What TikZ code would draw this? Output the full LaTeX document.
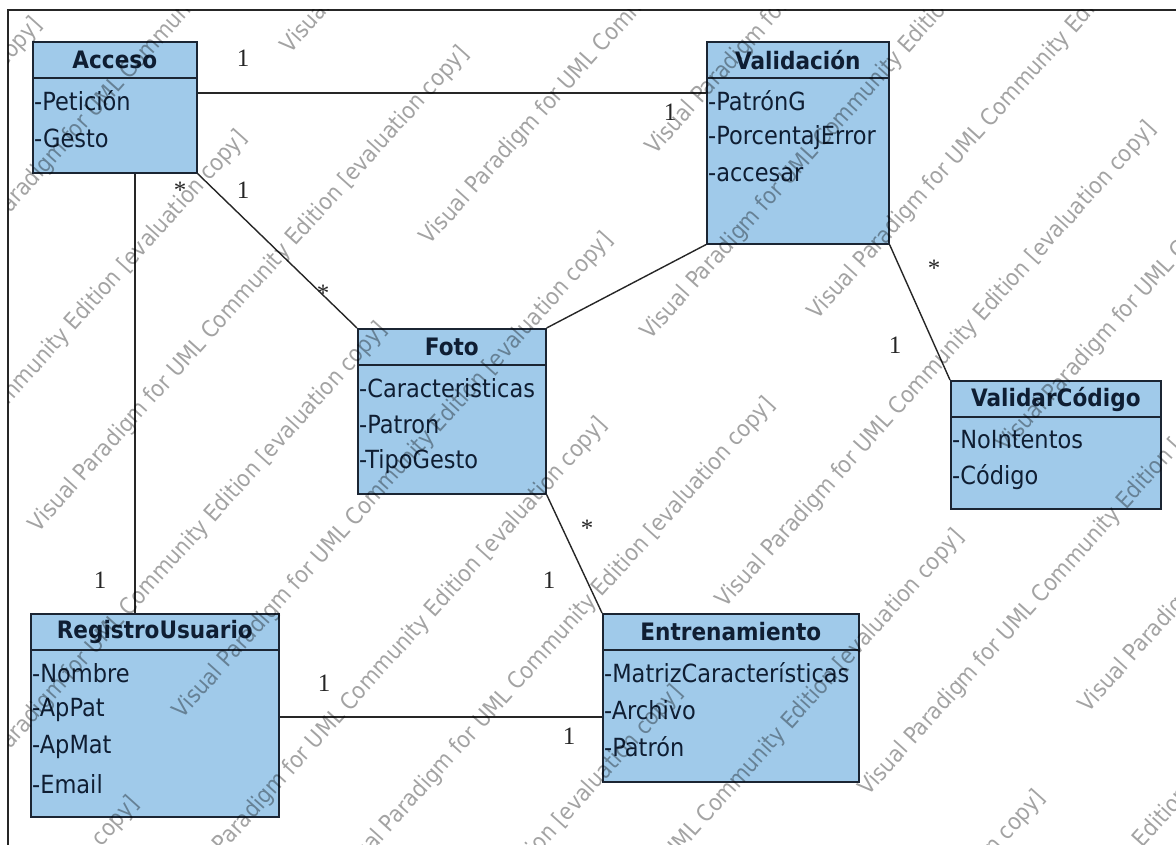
\documentclass[tikz,border=0pt]{standalone}
\usepackage{fontspec}
\setsansfont{DejaVu Sans}[FakeStretch=0.9]
\newfontfamily\multfont{Liberation Serif}

\definecolor{clsfill}{HTML}{A0CAEA}
\definecolor{clsline}{HTML}{1B2533}
\definecolor{clstext}{HTML}{0F1E33}

\tikzset{
  classbox/.style={draw=clsline, fill=clsfill, line width=1.6pt, inner sep=0pt, anchor=north west},
  ctitle/.style={font=\sffamily\bfseries\fontsize{24}{27}\selectfont, text=clstext, inner sep=0pt},
  cattr/.style={font=\sffamily\fontsize{25}{28}\selectfont, text=clstext, inner sep=0pt, anchor=west},
  assoc/.style={draw=black!85, line width=1.4pt},
  mult/.style={font=\multfont\fontsize{25}{28}\selectfont, inner sep=0pt, text=black!85},
  wmark/.style={font=\sffamily\fontsize{23}{26}\selectfont, text=black, text opacity=0.36,
                inner sep=0pt, rotate=48, anchor=base west},
}

% #1 name, #2 left, #3 top, #4 right, #5 bottom, #6 title, #7 attributes
\newcommand\umlclass[7]{%
  \node[classbox, minimum width={(#4-#2)*1pt}, minimum height={(#5-#3)*1pt}] (#1) at (#2,#3) {};
  \draw[clsline, line width=1.6pt] ([yshift=-37pt]#1.north west) -- ([yshift=-37pt]#1.north east);
  \node[ctitle] (#1-title) at ([yshift=-19pt]#1.north) {#6};
  \foreach \a [count=\i from 0] in {#7}
    \node[cattr] (#1-attr\i) at ([xshift=2pt, yshift={-(60+37*\i)*1pt}]#1.north west) {\a};
}

\begin{document}
\begin{tikzpicture}[x=1pt, y=-1pt]
\useasboundingbox (0,0) rectangle (1176,845);
\fill[white] (0,0) rectangle (1176,845);

% diagram frame (top and left edges)
\draw[black!85, line width=1.8pt] (8,845) -- (8,10) -- (1176,10);

% classes
\umlclass{acceso}{32}{41}{196}{172}{Acceso}{-Petición,-Gesto}
\umlclass{valid}{706}{41}{888}{243}{Validación}{-PatrónG,-PorcentajError,-accesar}
\umlclass{foto}{357}{328}{545}{493}{Foto}{-Caracteristicas,-Patron,-TipoGesto}
\umlclass{vcod}{950}{380}{1160}{508}{ValidarCódigo}{-NoIntentos,-Código}
\umlclass{registro}{30}{613}{278}{816}{RegistroUsuario}{-Nombre,-ApPat,-ApMat,-Email}
\umlclass{entr}{602}{613}{858}{781}{Entrenamiento}{-MatrizCaracterísticas,-Archivo,-Patrón}

% associations
\draw[assoc] ([yshift=-52pt]acceso.north east) -- ([yshift=-52pt]valid.north west);
\draw[assoc] (acceso.south east) -- (foto.north west);
\draw[assoc] ([xshift=103pt]acceso.south west) coordinate (accdown) -- (accdown |- registro.north);
\draw[assoc] (valid.south west) -- (foto.north east);
\draw[assoc] (valid.south east) -- (vcod.north west);
\draw[assoc] (foto.south east) -- (entr.north west);
\draw[assoc] ([yshift=-104pt]registro.north east) coordinate (regright) -- (regright -| entr.west);

% multiplicities
\node[mult] (m1) at (243,58) {1};
\node[mult] (m2) at (670,112) {1};
\node[mult] (m3) at (180,190) {*};
\node[mult] (m4) at (243,190) {1};
\node[mult] (m5) at (323,293) {*};
\node[mult] (m6) at (100,580) {1};
\node[mult] (m7) at (934,268) {*};
\node[mult] (m8) at (895,345) {1};
\node[mult] (m9) at (587,528) {*};
\node[mult] (m10) at (549,580) {1};
\node[mult] (m11) at (324,683) {1};
\node[mult] (m12) at (569,736) {1};

% evaluation watermark: parallel lines, c = offset across, s = start along
\begin{scope}
  \clip (8,10) rectangle (1176,845);
  \foreach \k/\s in {-4/-200, -3/100, -2/-237, -1/145, 0/-384, 1/-648, 2/-434, 3/157,
                     4/280, 5/0, 6/300, 7/-52, 8/153, 9/-300, 10/50} {
    \pgfmathsetmacro\c{372+115*\k}
    \foreach \n in {-2,...,1} {
      \pgfmathsetmacro\ss{\s+736*\n}
      \node[wmark] (wm\k-\n) at ({0.766*\c+0.643*\ss}, {0.643*\c-0.766*\ss})
        {Visual Paradigm for UML Community Edition [evaluation copy]};
    }
  }
\end{scope}
\end{tikzpicture}
\end{document}
